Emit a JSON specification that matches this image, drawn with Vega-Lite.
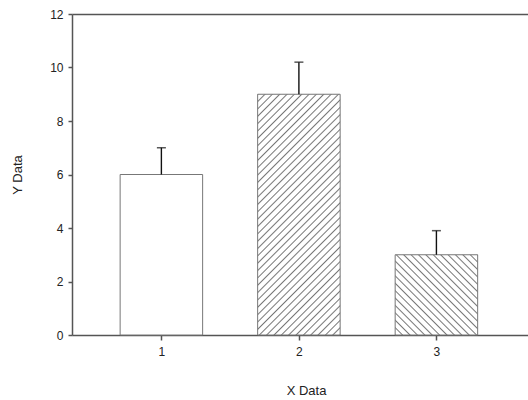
{
  "$schema": "https://vega.github.io/schema/vega-lite/v6.json",
  "width": 456,
  "height": 321,
  "autosize": {"type": "none"},
  "padding": {"left": 72, "top": 14, "right": 0, "bottom": 65},
  "background": "white",
  "config": {
    "view": {"stroke": null},
    "font": "Liberation Sans",
    "scale": {"continuousPadding": 0},
    "axis": {
      "grid": false,
      "domainColor": "#555",
      "domainWidth": 1.5,
      "tickColor": "#555",
      "tickWidth": 1.5,
      "labelFont": "Liberation Sans",
      "labelFontSize": 12,
      "labelColor": "#222",
      "titleFont": "Liberation Sans",
      "titleFontSize": 13,
      "titleFontWeight": "normal",
      "titleColor": "#222"
    }
  },
  "data": {
    "values": [
      {"x": 1, "y": 6, "upper": 7},
      {"x": 2, "y": 9, "upper": 10.2},
      {"x": 3, "y": 3, "upper": 3.9}
    ]
  },
  "resolve": {"axis": {"x": "independent"}},
  "layer": [
    {
      "mark": {"type": "bar", "width": 82.5, "stroke": "#777", "strokeWidth": 1},
      "encoding": {
        "x": {
          "field": "x", "type": "quantitative",
          "scale": {"domain": [0.35, 3.666], "nice": false, "zero": false, "padding": 0},
          "axis": {"values": [1, 2, 3], "tickSize": 5, "labelPadding": 6, "title": "X Data", "titlePadding": 27, "titleX": 234}
        },
        "y": {
          "field": "y", "type": "quantitative",
          "scale": {"domain": [0, 12], "nice": false},
          "axis": {"values": [0, 2, 4, 6, 8, 10, 12], "tickSize": 4, "labelPadding": 5, "title": "Y Data", "titlePadding": 25}
        },
        "fill": {
          "condition": [
            {
              "test": "datum.x === 2",
              "value": {
                "gradient": "linear", "x1": 0, "y1": 0, "x2": 0.4118, "y2": 1.2016,
                "stops": [
                  {"offset": 0, "color": "#777"},
                  {"offset": 0.0044, "color": "#fff"}, {"offset": 0.0183, "color": "#fff"}, {"offset": 0.02273, "color": "#777"},
                  {"offset": 0.0271, "color": "#fff"}, {"offset": 0.0411, "color": "#fff"}, {"offset": 0.04545, "color": "#777"},
                  {"offset": 0.0499, "color": "#fff"}, {"offset": 0.0638, "color": "#fff"}, {"offset": 0.06818, "color": "#777"},
                  {"offset": 0.0726, "color": "#fff"}, {"offset": 0.0865, "color": "#fff"}, {"offset": 0.09091, "color": "#777"},
                  {"offset": 0.0953, "color": "#fff"}, {"offset": 0.1092, "color": "#fff"}, {"offset": 0.11364, "color": "#777"},
                  {"offset": 0.1180, "color": "#fff"}, {"offset": 0.1320, "color": "#fff"}, {"offset": 0.13636, "color": "#777"},
                  {"offset": 0.1408, "color": "#fff"}, {"offset": 0.1547, "color": "#fff"}, {"offset": 0.15909, "color": "#777"},
                  {"offset": 0.1635, "color": "#fff"}, {"offset": 0.1774, "color": "#fff"}, {"offset": 0.18182, "color": "#777"},
                  {"offset": 0.1862, "color": "#fff"}, {"offset": 0.2002, "color": "#fff"}, {"offset": 0.20455, "color": "#777"},
                  {"offset": 0.2090, "color": "#fff"}, {"offset": 0.2229, "color": "#fff"}, {"offset": 0.22727, "color": "#777"},
                  {"offset": 0.2317, "color": "#fff"}, {"offset": 0.2456, "color": "#fff"}, {"offset": 0.25, "color": "#777"},
                  {"offset": 0.2544, "color": "#fff"}, {"offset": 0.2683, "color": "#fff"}, {"offset": 0.27273, "color": "#777"},
                  {"offset": 0.2771, "color": "#fff"}, {"offset": 0.2911, "color": "#fff"}, {"offset": 0.29545, "color": "#777"},
                  {"offset": 0.2999, "color": "#fff"}, {"offset": 0.3138, "color": "#fff"}, {"offset": 0.31818, "color": "#777"},
                  {"offset": 0.3226, "color": "#fff"}, {"offset": 0.3365, "color": "#fff"}, {"offset": 0.34091, "color": "#777"},
                  {"offset": 0.3453, "color": "#fff"}, {"offset": 0.3592, "color": "#fff"}, {"offset": 0.36364, "color": "#777"},
                  {"offset": 0.3680, "color": "#fff"}, {"offset": 0.3820, "color": "#fff"}, {"offset": 0.38636, "color": "#777"},
                  {"offset": 0.3908, "color": "#fff"}, {"offset": 0.4047, "color": "#fff"}, {"offset": 0.40909, "color": "#777"},
                  {"offset": 0.4135, "color": "#fff"}, {"offset": 0.4274, "color": "#fff"}, {"offset": 0.43182, "color": "#777"},
                  {"offset": 0.4362, "color": "#fff"}, {"offset": 0.4502, "color": "#fff"}, {"offset": 0.45455, "color": "#777"},
                  {"offset": 0.4590, "color": "#fff"}, {"offset": 0.4729, "color": "#fff"}, {"offset": 0.47727, "color": "#777"},
                  {"offset": 0.4817, "color": "#fff"}, {"offset": 0.4956, "color": "#fff"}, {"offset": 0.5, "color": "#777"},
                  {"offset": 0.5044, "color": "#fff"}, {"offset": 0.5183, "color": "#fff"}, {"offset": 0.52273, "color": "#777"},
                  {"offset": 0.5271, "color": "#fff"}, {"offset": 0.5411, "color": "#fff"}, {"offset": 0.54545, "color": "#777"},
                  {"offset": 0.5499, "color": "#fff"}, {"offset": 0.5638, "color": "#fff"}, {"offset": 0.56818, "color": "#777"},
                  {"offset": 0.5726, "color": "#fff"}, {"offset": 0.5865, "color": "#fff"}, {"offset": 0.59091, "color": "#777"},
                  {"offset": 0.5953, "color": "#fff"}, {"offset": 0.6092, "color": "#fff"}, {"offset": 0.61364, "color": "#777"},
                  {"offset": 0.6180, "color": "#fff"}, {"offset": 0.6320, "color": "#fff"}, {"offset": 0.63636, "color": "#777"},
                  {"offset": 0.6408, "color": "#fff"}, {"offset": 0.6547, "color": "#fff"}, {"offset": 0.65909, "color": "#777"},
                  {"offset": 0.6635, "color": "#fff"}, {"offset": 0.6774, "color": "#fff"}, {"offset": 0.68182, "color": "#777"},
                  {"offset": 0.6862, "color": "#fff"}, {"offset": 0.7002, "color": "#fff"}, {"offset": 0.70455, "color": "#777"},
                  {"offset": 0.7090, "color": "#fff"}, {"offset": 0.7229, "color": "#fff"}, {"offset": 0.72727, "color": "#777"},
                  {"offset": 0.7317, "color": "#fff"}, {"offset": 0.7456, "color": "#fff"}, {"offset": 0.75, "color": "#777"},
                  {"offset": 0.7544, "color": "#fff"}, {"offset": 0.7683, "color": "#fff"}, {"offset": 0.77273, "color": "#777"},
                  {"offset": 0.7771, "color": "#fff"}, {"offset": 0.7911, "color": "#fff"}, {"offset": 0.79545, "color": "#777"},
                  {"offset": 0.7999, "color": "#fff"}, {"offset": 0.8138, "color": "#fff"}, {"offset": 0.81818, "color": "#777"},
                  {"offset": 0.8226, "color": "#fff"}, {"offset": 0.8365, "color": "#fff"}, {"offset": 0.84091, "color": "#777"},
                  {"offset": 0.8453, "color": "#fff"}, {"offset": 0.8592, "color": "#fff"}, {"offset": 0.86364, "color": "#777"},
                  {"offset": 0.8680, "color": "#fff"}, {"offset": 0.8820, "color": "#fff"}, {"offset": 0.88636, "color": "#777"},
                  {"offset": 0.8908, "color": "#fff"}, {"offset": 0.9047, "color": "#fff"}, {"offset": 0.90909, "color": "#777"},
                  {"offset": 0.9135, "color": "#fff"}, {"offset": 0.9274, "color": "#fff"}, {"offset": 0.93182, "color": "#777"},
                  {"offset": 0.9362, "color": "#fff"}, {"offset": 0.9502, "color": "#fff"}, {"offset": 0.95455, "color": "#777"},
                  {"offset": 0.9590, "color": "#fff"}, {"offset": 0.9729, "color": "#fff"}, {"offset": 0.97727, "color": "#777"},
                  {"offset": 0.9817, "color": "#fff"}, {"offset": 0.9956, "color": "#fff"}, {"offset": 1, "color": "#777"}
                ]
              }
            },
            {
              "test": "datum.x === 3",
              "value": {
                "gradient": "linear", "x1": 0, "y1": 1, "x2": 1.0136, "y2": 0.014,
                "stops": [
                  {"offset": 0, "color": "#777"},
                  {"offset": 0.0087, "color": "#fff"}, {"offset": 0.0368, "color": "#fff"}, {"offset": 0.04545, "color": "#777"},
                  {"offset": 0.0542, "color": "#fff"}, {"offset": 0.0822, "color": "#fff"}, {"offset": 0.09091, "color": "#777"},
                  {"offset": 0.0996, "color": "#fff"}, {"offset": 0.1277, "color": "#fff"}, {"offset": 0.13636, "color": "#777"},
                  {"offset": 0.1451, "color": "#fff"}, {"offset": 0.1731, "color": "#fff"}, {"offset": 0.18182, "color": "#777"},
                  {"offset": 0.1905, "color": "#fff"}, {"offset": 0.2186, "color": "#fff"}, {"offset": 0.22727, "color": "#777"},
                  {"offset": 0.2360, "color": "#fff"}, {"offset": 0.2640, "color": "#fff"}, {"offset": 0.27273, "color": "#777"},
                  {"offset": 0.2814, "color": "#fff"}, {"offset": 0.3095, "color": "#fff"}, {"offset": 0.31818, "color": "#777"},
                  {"offset": 0.3269, "color": "#fff"}, {"offset": 0.3549, "color": "#fff"}, {"offset": 0.36364, "color": "#777"},
                  {"offset": 0.3723, "color": "#fff"}, {"offset": 0.4004, "color": "#fff"}, {"offset": 0.40909, "color": "#777"},
                  {"offset": 0.4178, "color": "#fff"}, {"offset": 0.4458, "color": "#fff"}, {"offset": 0.45455, "color": "#777"},
                  {"offset": 0.4633, "color": "#fff"}, {"offset": 0.4913, "color": "#fff"}, {"offset": 0.5, "color": "#777"},
                  {"offset": 0.5087, "color": "#fff"}, {"offset": 0.5368, "color": "#fff"}, {"offset": 0.54545, "color": "#777"},
                  {"offset": 0.5542, "color": "#fff"}, {"offset": 0.5822, "color": "#fff"}, {"offset": 0.59091, "color": "#777"},
                  {"offset": 0.5996, "color": "#fff"}, {"offset": 0.6277, "color": "#fff"}, {"offset": 0.63636, "color": "#777"},
                  {"offset": 0.6451, "color": "#fff"}, {"offset": 0.6731, "color": "#fff"}, {"offset": 0.68182, "color": "#777"},
                  {"offset": 0.6905, "color": "#fff"}, {"offset": 0.7186, "color": "#fff"}, {"offset": 0.72727, "color": "#777"},
                  {"offset": 0.7360, "color": "#fff"}, {"offset": 0.7640, "color": "#fff"}, {"offset": 0.77273, "color": "#777"},
                  {"offset": 0.7814, "color": "#fff"}, {"offset": 0.8095, "color": "#fff"}, {"offset": 0.81818, "color": "#777"},
                  {"offset": 0.8269, "color": "#fff"}, {"offset": 0.8549, "color": "#fff"}, {"offset": 0.86364, "color": "#777"},
                  {"offset": 0.8723, "color": "#fff"}, {"offset": 0.9004, "color": "#fff"}, {"offset": 0.90909, "color": "#777"},
                  {"offset": 0.9178, "color": "#fff"}, {"offset": 0.9458, "color": "#fff"}, {"offset": 0.95455, "color": "#777"},
                  {"offset": 0.9633, "color": "#fff"}, {"offset": 0.9913, "color": "#fff"}, {"offset": 1, "color": "#777"}
                ]
              }
            }
          ],
          "value": "#ffffff"
        }
      }
    },
    {
      "mark": {"type": "rule", "color": "#111", "strokeWidth": 1.4},
      "encoding": {
        "x": {
          "field": "x", "type": "quantitative",
          "scale": {"domain": [0.35, 3.666], "nice": false, "zero": false, "padding": 0},
          "axis": {"orient": "top", "labels": false, "ticks": false, "title": null, "domainColor": "#555", "domainWidth": 1.5}
        },
        "y": {"field": "y", "type": "quantitative"},
        "y2": {"field": "upper"}
      }
    },
    {
      "mark": {"type": "tick", "orient": "horizontal", "size": 9, "thickness": 1.5, "color": "#111"},
      "encoding": {
        "x": {"field": "x", "type": "quantitative", "axis": null},
        "y": {"field": "upper", "type": "quantitative"}
      }
    }
  ]
}
